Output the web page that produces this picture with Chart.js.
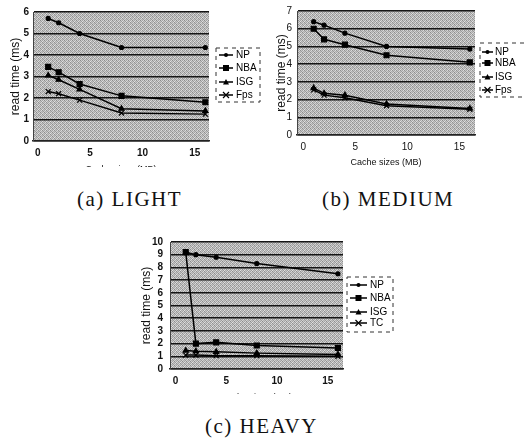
<!DOCTYPE html>
<html>
<head>
<meta charset="utf-8">
<script src="https://cdn.jsdelivr.net/npm/chart.js@4.4.0/dist/chart.umd.min.js"></script>
<style>
  body { margin: 0; background: #fff; width: 524px; height: 443px; position: relative; overflow: hidden; }
  .panel { position: absolute; overflow: hidden; }
  .caption { position: absolute; font-family: "Liberation Serif", "Times New Roman", serif; font-size: 21px;
             line-height: 21px; letter-spacing: 1.5px; color: #111; white-space: nowrap; }
</style>
</head>
<body>
<div class="panel" style="left:0;top:0;width:262px;height:167px"><canvas id="lightChart" width="262" height="180"></canvas></div>
<div class="panel" style="left:262px;top:0;width:262px;height:180px"><canvas id="mediumChart" width="262" height="180"></canvas></div>
<div class="panel" style="left:130px;top:225px;width:270px;height:169px"><canvas id="heavyChart" width="270" height="185"></canvas></div>
<div class="caption" style="left:77px;top:189px">(a) LIGHT</div>
<div class="caption" style="left:322px;top:189px">(b) MEDIUM</div>
<div class="caption" style="left:205px;top:416px">(c) HEAVY</div>
<script>
// ---- data ----
const cacheSizes = [1, 2, 4, 8, 16];
const xTicks = [0, 5, 10, 15];
const legendLabels = ['NP', 'NBA', 'ISG', 'Fps'];
const heavyLegendLabels = ['NP', 'NBA', 'ISG', 'TC'];

const lightNP  = [5.7, 5.5, 5.0, 4.35, 4.35];
const lightNBA = [3.45, 3.2, 2.65, 2.1, 1.8];
const lightISG = [3.05, 2.85, 2.4, 1.5, 1.4];
const lightFps = [2.3, 2.2, 1.9, 1.3, 1.25];

const mediumNP  = [6.4, 6.2, 5.75, 5.0, 4.85];
const mediumNBA = [6.0, 5.4, 5.1, 4.5, 4.1];
const mediumISG = [2.65, 2.35, 2.25, 1.75, 1.5];
const mediumFps = [2.55, 2.25, 2.1, 1.65, 1.45];

const heavyNP  = [9.2, 9.0, 8.8, 8.3, 7.5];
const heavyNBA = [9.2, 2.0, 2.1, 1.85, 1.65];
const heavyISG = [1.45, 1.4, 1.35, 1.25, 1.15];
const heavyTC  = [1.1, 1.1, 1.05, 1.05, 1.0];

// ---- styling ----
Chart.defaults.font.family = '"Liberation Sans", Arial, sans-serif';
Chart.defaults.color = '#111';

const markers = [
    { pointStyle: 'circle', pointRadius: 2 },
    { pointStyle: 'rect', pointRadius: 3.5 },
    { pointStyle: 'triangle', pointRadius: 3 },
    { pointStyle: 'crossRot', pointRadius: 3.5 }
];

// halftone-ish grey plot background (scanned look)
function makePattern(ctx) {
    const shades = [
        [140, 205, 165, 215],
        [195, 155, 225, 170],
        [165, 220, 145, 200],
        [210, 175, 190, 155]
    ];
    const c = document.createElement('canvas');
    c.width = 4; c.height = 4;
    const g = c.getContext('2d');
    shades.forEach((row, y) => row.forEach((s, x) => {
        g.fillStyle = `rgb(${s},${s},${s})`;
        g.fillRect(x, y, 1, 1);
    }));
    return ctx.createPattern(c, 'repeat');
}

const plotBackground = {
    id: 'plotBackground',
    beforeDraw(chart) {
        const { ctx, chartArea: a } = chart;
        ctx.save();
        ctx.fillStyle = makePattern(ctx);
        ctx.fillRect(a.left, a.top, a.right - a.left, a.bottom - a.top);
        ctx.restore();
    }
};

function drawMarker(ctx, style, r, x, y) {
    ctx.beginPath();
    if (style === 'rect') {
        ctx.fillRect(x - r, y - r, 2 * r, 2 * r);
        return;
    }
    if (style === 'triangle') {
        ctx.moveTo(x, y - r);
        ctx.lineTo(x + r, y + r * 0.8);
        ctx.lineTo(x - r, y + r * 0.8);
        ctx.closePath();
        ctx.fill();
        return;
    }
    if (style === 'crossRot') {
        ctx.moveTo(x - r, y - r); ctx.lineTo(x + r, y + r);
        ctx.moveTo(x + r, y - r); ctx.lineTo(x - r, y + r);
        ctx.stroke();
        return;
    }
    ctx.arc(x, y, r, 0, Math.PI * 2);
    ctx.fill();
}

// dashed legend box on the right
const boxLegend = {
    id: 'boxLegend',
    afterDraw(chart, args, opts) {
        const ctx = chart.ctx;
        ctx.save();
        ctx.strokeStyle = '#333';
        ctx.lineWidth = 1;
        ctx.setLineDash([4, 4]);
        ctx.strokeRect(opts.x, opts.y, opts.w, opts.h);
        ctx.setLineDash([]);
        ctx.font = '10px "Liberation Sans", Arial, sans-serif';
        ctx.textBaseline = 'middle';
        ctx.fillStyle = '#000';
        chart.data.datasets.forEach((ds, i) => {
            const y = opts.rows[i];
            ctx.strokeStyle = '#000';
            ctx.lineWidth = 1.5;
            ctx.beginPath();
            ctx.moveTo(opts.lineX0, y);
            ctx.lineTo(opts.lineX1, y);
            ctx.stroke();
            ctx.lineWidth = 1.2;
            drawMarker(ctx, ds.pointStyle, Math.min(ds.pointRadius, 3), (opts.lineX0 + opts.lineX1) / 2, y);
            ctx.fillText(ds.label, opts.textX, y);
        });
        ctx.restore();
    }
};

function buildDatasets(labels, series) {
    return series.map((values, i) => ({
        label: labels[i],
        data: values.map((v, j) => ({ x: cacheSizes[j], y: v })),
        borderColor: '#000',
        backgroundColor: '#000',
        borderWidth: 1.5,
        pointStyle: markers[i].pointStyle,
        pointRadius: markers[i].pointRadius,
        pointBorderWidth: 1.2,
        tension: 0
    }));
}

function renderPanel(id, p) {
    const canvas = document.getElementById(id);
    return new Chart(canvas, {
        type: 'line',
        data: { datasets: buildDatasets(p.labels, p.series) },
        plugins: [plotBackground, boxLegend],
        options: {
            responsive: false,
            animation: false,
            layout: {
                padding: { left: 0, top: p.area.top, right: canvas.width - p.area.right, bottom: 0 }
            },
            plugins: {
                legend: { display: false },
                tooltip: { enabled: false },
                boxLegend: p.legend
            },
            scales: {
                x: {
                    type: 'linear',
                    min: p.xMin,
                    max: p.xMax,
                    afterBuildTicks: (axis) => { axis.ticks = xTicks.map(v => ({ value: v })); },
                    afterFit: (axis) => { axis.height = canvas.height - p.area.bottom; },
                    grid: { display: false, drawTicks: false },
                    border: { display: true, color: '#222', width: 1.5 },
                    ticks: { padding: 6, color: '#111', font: { size: 10, weight: p.tickWeight } },
                    title: {
                        display: true,
                        text: 'Cache sizes (MB)',
                        color: '#111',
                        font: { size: 9 },
                        padding: { top: 0, bottom: p.xTitlePad }
                    }
                },
                y: {
                    min: 0,
                    max: p.yMax,
                    afterFit: (axis) => { axis.width = p.area.left; },
                    grid: { color: '#151515', lineWidth: 1.5, drawTicks: false },
                    border: { display: true, color: '#444', width: 1 },
                    ticks: {
                        stepSize: 1,
                        autoSkip: false,
                        padding: p.yTickPad,
                        color: '#111',
                        font: { size: 10, weight: p.tickWeight }
                    },
                    title: {
                        display: true,
                        text: 'read time (ms)',
                        color: '#111',
                        font: { size: 12 },
                        padding: { top: p.yTitlePad, bottom: 0 }
                    }
                }
            }
        }
    });
}

renderPanel('lightChart', {
    labels: legendLabels,
    series: [lightNP, lightNBA, lightISG, lightFps],
    yMax: 6, xMin: -0.45, xMax: 16.35,
    area: { left: 33, top: 12, right: 209, bottom: 141 },
    tickWeight: 'bold', yTickPad: 4, yTitlePad: 8, xTitlePad: 5,
    legend: { x: 216, y: 48, w: 44, h: 54, lineX0: 219, lineX1: 233, textX: 236, rows: [55, 68, 82, 95] }
});

renderPanel('mediumChart', {
    labels: legendLabels,
    series: [mediumNP, mediumNBA, mediumISG, mediumFps],
    yMax: 7, xMin: -0.6, xMax: 16.5,
    area: { left: 35, top: 7, right: 213, bottom: 135 },
    tickWeight: 'normal', yTickPad: 5, yTitlePad: 12, xTitlePad: 12,
    legend: { x: 218, y: 43, w: 50, h: 54, lineX0: 220, lineX1: 231, textX: 233, rows: [52, 63, 77, 90] }
});

renderPanel('heavyChart', {
    labels: heavyLegendLabels,
    series: [heavyNP, heavyNBA, heavyISG, heavyTC],
    yMax: 10, xMin: -0.55, xMax: 16.5,
    area: { left: 40, top: 17, right: 213, bottom: 144 },
    tickWeight: 'bold', yTickPad: 7, yTitlePad: 9, xTitlePad: 7,
    legend: { x: 217, y: 52, w: 46, h: 55, lineX0: 220, lineX1: 237, textX: 240, rows: [60, 73, 87, 98] }
});
</script>
</body>
</html>
